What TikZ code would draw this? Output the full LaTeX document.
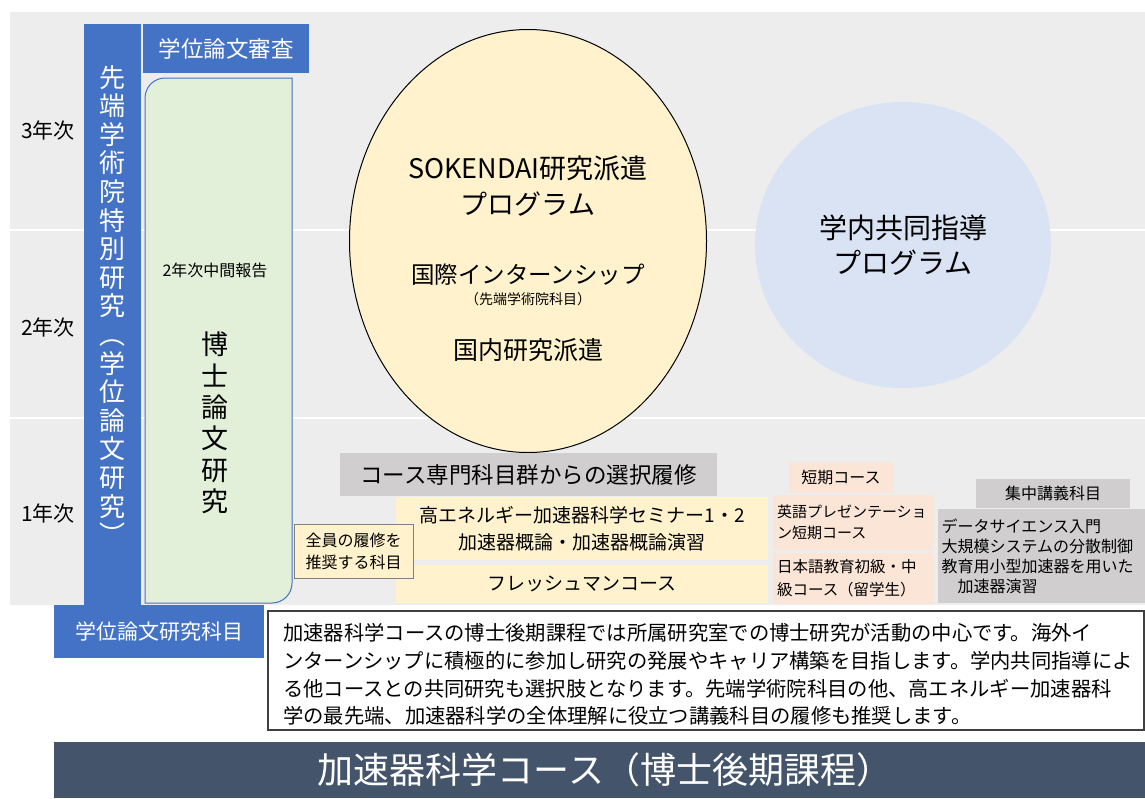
\documentclass[tikz,border=0pt]{standalone}
\usepackage{fontspec}
\setmainfont{Noto Sans CJK JP}
\definecolor{rowgray}{HTML}{EDEDED}
\definecolor{kekblue}{HTML}{4472C4}
\definecolor{thesisgreen}{HTML}{E2F0D9}
\definecolor{hakenyellow}{HTML}{FFF2CC}
\definecolor{kyodoblue}{HTML}{DAE3F3}
\definecolor{selgray}{HTML}{D0CECE}
\definecolor{tankipink}{HTML}{FBE5D6}
\definecolor{titlebar}{HTML}{44546A}

\begin{document}
\begin{tikzpicture}[x=1pt, y=-1pt,
    every node/.style={inner sep=0pt, align=center},
    lbl/.style={font=\fontsize{21}{24}\selectfont},
    bluetile/.style={fill=kekblue, text=white},
    yellowtile/.style={fill=hakenyellow, font=\fontsize{19}{27}\selectfont},
    pinktile/.style={fill=tankipink},
    graytile/.style={fill=selgray}]
\useasboundingbox (0,0) rectangle (1145,798);

% rows of the three years
\fill[rowgray] (10,12) rectangle (1145,605);
\draw[white, line width=2.5pt] (10,230) -- (1145,230);
\draw[white, line width=2pt] (10,418) -- (1145,418);
\node[lbl] (y3) at (48,130) {3年次};
\node[lbl] (y2) at (48,327) {2年次};
\node[lbl] (y1) at (48,513) {1年次};

% thesis research
\fill[kekblue] (84,24) rectangle (141,605);
\node[text=white, font=\fontsize{26}{28.6}\selectfont] (tokubetsu) at (112.5,305)
    {先\\端\\学\\術\\院\\特\\別\\研\\究\\︵\\学\\位\\論\\文\\研\\究\\︶};
\node[bluetile, minimum width=166pt, minimum height=49pt, font=\fontsize{22.5}{26}\selectfont] (shinsa) at (226,48.5) {学位論文審査};
\node[bluetile, minimum width=210pt, minimum height=53pt, font=\fontsize{21}{24}\selectfont] (kamoku) at (159,631.5) {学位論文研究科目};
\draw[kekblue, line width=1pt, fill=thesisgreen] (145,603) -- (145,98) arc[start angle=180, end angle=270, radius=20]
    -- (292,78) -- (292,583) arc[start angle=0, end angle=90, radius=20] -- cycle;
\node[font=\fontsize{16}{18}\selectfont] (chukan) at (215,270) {2年次中間報告};
\node[font=\fontsize{27}{31.4}\selectfont] (hakase) at (215,423) {博\\士\\論\\文\\研\\究};

% programs
\draw[black, line width=1pt, fill=hakenyellow] (528,241) ellipse [x radius=178.5, y radius=211.5];
\node[font=\fontsize{27}{36}\selectfont] (sokendai) at (528,186) {SOKENDAI研究派遣\\プログラム};
\node[font=\fontsize{23.5}{26}\selectfont] (kokusai) at (528,275) {国際インターンシップ};
\node[font=\fontsize{14}{16}\selectfont] (sentan) at (528,299) {（先端学術院科目）};
\node[font=\fontsize{25}{28}\selectfont] (kokunai) at (528,350) {国内研究派遣};
\fill[kyodoblue] (903,245) ellipse [x radius=148, y radius=143];
\node[font=\fontsize{28}{35}\selectfont] (kyodo) at (903,245) {学内共同指導\\プログラム};

% courses
\node[graytile, minimum width=377pt, minimum height=43pt, font=\fontsize{22.5}{26}\selectfont] (sentaku) at (528.5,474.5) {コース専門科目群からの選択履修};
\node[yellowtile, minimum width=372pt, minimum height=63pt] (seminar) at (582,528.5) {高エネルギー加速器科学セミナー1・2\\加速器概論・加速器概論演習};
\node[yellowtile, minimum width=372pt, minimum height=38pt] (freshman) at (582,584) {フレッシュマンコース};
\node[draw=black!50, line width=0.8pt, fill=hakenyellow, minimum width=119pt, minimum height=54pt, font=\fontsize{16}{22}\selectfont] (zenin) at (353.5,551) {全員の履修を\\推奨する科目};
\node[pinktile, minimum width=104pt, minimum height=31pt, font=\fontsize{16}{18}\selectfont] (tanki) at (841,477.5) {短期コース};
\node[pinktile, minimum width=160pt, minimum height=55pt, text width=152pt, inner xsep=4pt, align=left, font=\fontsize{15}{21}\selectfont] (eigo) at (853,522.5) {英語プレゼンテーショ\\ン短期コース};
\node[pinktile, minimum width=160pt, minimum height=51pt, text width=152pt, inner xsep=4pt, align=left, font=\fontsize{15.5}{23}\selectfont] (nihongo) at (853,578.5) {日本語教育初級・中\\級コース（留学生）};
\node[graytile, minimum width=154pt, minimum height=29pt, font=\fontsize{16}{18}\selectfont] (shuchu) at (1053,493.5) {集中講義科目};
\node[graytile, minimum width=207pt, minimum height=94pt, text width=200pt, inner xsep=4pt, align=left, font=\fontsize{16}{20}\selectfont] (kogi) at (1041.5,556)
    {データサイエンス入門\\大規模システムの分散制御\\教育用小型加速器を用いた\\　加速器演習};

% description and title
\draw[black!75, line width=1.5pt, fill=white] (268,611) rectangle (1144,730);
\node[anchor=west, align=left, font=\fontsize{20.3}{27.7}\selectfont] (setsumei) at (283,674.5)
    {加速器科学コースの博士後期課程では所属研究室での博士研究が活動の中心です。海外イ\\
     ンターンシップに積極的に参加し研究の発展やキャリア構築を目指します。学内共同指導によ\\
     る他コースとの共同研究も選択肢となります。先端学術院科目の他、高エネルギー加速器科\\
     学の最先端、加速器科学の全体理解に役立つ講義科目の履修も推奨します。};
\fill[titlebar] (54,742) rectangle (1145,798);
\node[text=white, font=\fontsize{36}{40}\selectfont] (title) at (605,770) {加速器科学コース（博士後期課程）};
\end{tikzpicture}
\end{document}
